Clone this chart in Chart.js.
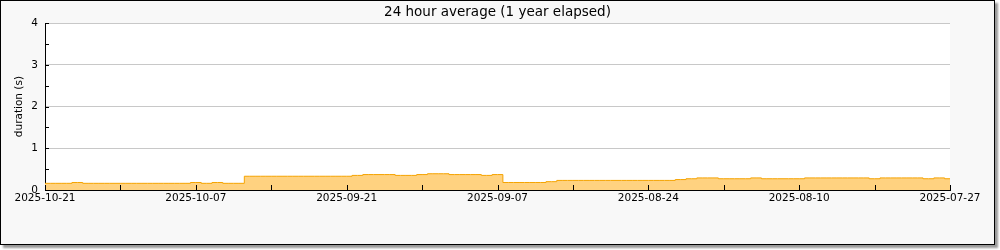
<!DOCTYPE html>
<html>
<head>
<meta charset="utf-8">
<script src="https://cdn.jsdelivr.net/npm/chart.js@4.4.1/dist/chart.umd.min.js"></script>
<style>
  body { margin: 0; background: #fff; }
  #frame {
    position: absolute; left: 0; top: 0;
    width: 993px; height: 243px;
    border: 1px solid #000;
    background: #f8f8f8;
    box-shadow: 3px 3px 2px #999;
  }
  #chart { display: block; }
</style>
</head>
<body>
<div id="frame"><canvas id="chart" width="993" height="243"></canvas></div>
<script>
// tick labels, one every 14 days (newest on the left)
const tickLabels = ['2025-10-21', '2025-10-07', '2025-09-21', '2025-09-07', '2025-08-24', '2025-08-10', '2025-07-27'];
const daysPerLabel = 14;

// daily 24h average duration in seconds, day 0 = 2025-10-21
const durations = [
  0.16, 0.16, 0.16, 0.18, 0.16, 0.16, 0.16, 0.16, 0.16, 0.16,
  0.16, 0.16, 0.16, 0.16, 0.18, 0.16, 0.18, 0.16, 0.16, 0.33,
  0.33, 0.33, 0.33, 0.33, 0.33, 0.33, 0.33, 0.33, 0.33, 0.35,
  0.37, 0.37, 0.37, 0.35, 0.35, 0.37, 0.39, 0.39, 0.37, 0.37,
  0.37, 0.35, 0.37, 0.18, 0.18, 0.18, 0.18, 0.20, 0.23, 0.23,
  0.23, 0.23, 0.23, 0.23, 0.23, 0.23, 0.23, 0.23, 0.23, 0.25,
  0.27, 0.29, 0.29, 0.27, 0.27, 0.27, 0.29, 0.27, 0.27, 0.27,
  0.27, 0.29, 0.29, 0.29, 0.29, 0.29, 0.29, 0.27, 0.29, 0.29,
  0.29, 0.29, 0.27, 0.29, 0.27
];

const yTicksMax = 4;

const fontFamily = "'DejaVu Sans', sans-serif";
Chart.defaults.color = '#000';
Chart.defaults.font.family = fontFamily;

// white plot background
const plotBg = {
  id: 'plotBg',
  beforeDraw(chart) {
    const { ctx, chartArea: a } = chart;
    ctx.save();
    ctx.fillStyle = '#fff';
    ctx.fillRect(a.left, a.top, a.right - a.left, a.bottom - a.top);
    ctx.restore();
  }
};

// small tick marks pointing into the plot
const inwardTicks = {
  id: 'inwardTicks',
  afterDraw(chart) {
    const { ctx, chartArea: a, scales } = chart;
    ctx.save();
    ctx.strokeStyle = '#000';
    ctx.lineWidth = 1;
    ctx.beginPath();
    scales.x.ticks.forEach(t => {
      const px = Math.round(scales.x.getPixelForValue(t.value)) + 0.5;
      ctx.moveTo(px, a.bottom);
      ctx.lineTo(px, a.bottom - 5);
    });
    scales.y.ticks.forEach(t => {
      const py = Math.round(scales.y.getPixelForValue(t.value)) + 0.5;
      ctx.moveTo(a.left, py);
      ctx.lineTo(a.left + 4, py);
    });
    ctx.stroke();
    ctx.restore();
  }
};

const points = durations.map((v, i) => ({ x: i, y: v }));

new Chart(document.getElementById('chart').getContext('2d'), {
  type: 'line',
  data: {
    datasets: [{
      label: 'duration',
      data: points,
      stepped: 'middle',
      borderColor: '#f5a300',
      borderWidth: 1,
      backgroundColor: '#ffd280',
      fill: 'origin',
      pointRadius: 0
    }]
  },
  options: {
    responsive: false,
    animation: false,
    layout: { padding: 0 },
    plugins: {
      legend: { display: false },
      tooltip: { enabled: false },
      title: {
        display: true,
        text: '24 hour average (1 year elapsed)',
        font: { size: 13.5, weight: 'normal' },
        color: '#000',
        padding: { top: 3, bottom: 3 }
      }
    },
    scales: {
      x: {
        type: 'linear',
        min: 0,
        max: (tickLabels.length - 1) * daysPerLabel,
        afterFit: s => { s.height = 54; },
        grid: { display: false, drawTicks: false },
        border: { display: true, color: '#000', width: 1 },
        ticks: {
          stepSize: daysPerLabel / 2,
          autoSkip: false,
          maxRotation: 0,
          padding: 2,
          font: { size: 10.5 },
          callback: v => (v % daysPerLabel === 0 ? tickLabels[v / daysPerLabel] : '')
        }
      },
      y: {
        min: 0,
        max: yTicksMax,
        afterFit: s => { s.width = 44; },
        grid: {
          drawTicks: false,
          color: c => (c.tick.value > 0 && Number.isInteger(c.tick.value) ? '#c8c8c8' : 'rgba(0,0,0,0)')
        },
        border: { display: true, color: '#000', width: 1 },
        ticks: {
          stepSize: 0.5,
          padding: 7,
          font: { size: 10.5 },
          callback: v => (Number.isInteger(v) ? String(v) : '')
        },
        title: {
          display: true,
          text: 'duration (s)',
          font: { size: 10.5 },
          padding: { top: 12, bottom: 0 }
        }
      },
      // empty right margin so the title centres on the whole frame
      yRight: {
        position: 'right',
        min: 0,
        max: 1,
        afterFit: s => { s.width = 44; },
        grid: { display: false, drawTicks: false },
        border: { display: false },
        ticks: { display: false }
      }
    }
  },
  plugins: [plotBg, inwardTicks]
});
</script>
</body>
</html>
